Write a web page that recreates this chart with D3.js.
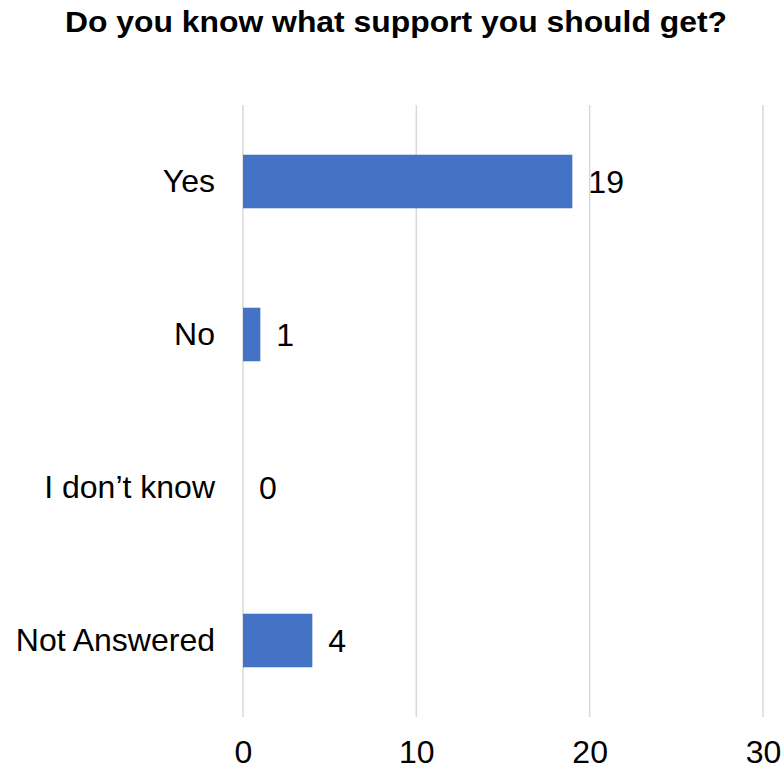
<!DOCTYPE html>
<html>
<head>
<meta charset="utf-8">
<script src="https://cdn.jsdelivr.net/npm/d3@7"></script>
<style>
  html, body { margin: 0; padding: 0; background: #fff; }
  text { font-family: "Liberation Sans", Arial, sans-serif; }
</style>
</head>
<body>
<svg id="chart" width="782" height="771"></svg>
<script>
// Survey responses
const categories = ["Yes", "No", "I don\u2019t know", "Not Answered"];
const counts = [19, 1, 0, 4];
const tickValues = [0, 10, 20, 30];
const title = "Do you know what support you should get?";

const svg = d3.select("#chart");
const W = 782, H = 771;
const margin = { left: 243, right: 19, top: 105, bottom: 54 };
const labelSize = "32px";

const x = d3.scaleLinear()
  .domain([0, 30])
  .range([margin.left, W - margin.right]);

const y = d3.scaleBand()
  .domain(categories)
  .range([margin.top, H - margin.bottom])
  .paddingInner(0.65)
  .paddingOuter(0.325);

// Title
svg.append("text")
  .attr("x", 396)
  .attr("y", 32)
  .attr("text-anchor", "middle")
  .style("font-size", "29px")
  .style("font-weight", "bold")
  .attr("textLength", 662)
  .attr("lengthAdjust", "spacingAndGlyphs")
  .attr("fill", "#000")
  .text(title);

// Vertical gridlines
svg.append("g")
  .selectAll("line")
  .data(tickValues)
  .join("line")
  .attr("x1", d => x(d))
  .attr("x2", d => x(d))
  .attr("y1", margin.top)
  .attr("y2", H - margin.bottom)
  .attr("stroke", "#d9d9d9")
  .attr("stroke-width", 1.5);

// X axis tick labels
const xAxis = d3.axisBottom(x).tickValues(tickValues).tickSize(0).tickPadding(0);
const gx = svg.append("g")
  .attr("transform", `translate(0, ${H - margin.bottom + 11})`)
  .call(xAxis);
gx.select(".domain").remove();
gx.selectAll("text")
  .attr("dy", "1.1em")
  .style("font-size", labelSize)
  .style("font-family", "'Liberation Sans', Arial, sans-serif")
  .attr("fill", "#000");

// Category labels
const yAxis = d3.axisLeft(y).tickSize(0).tickPadding(28);
const gy = svg.append("g")
  .attr("transform", `translate(${margin.left}, 0)`)
  .call(yAxis);
gy.select(".domain").remove();
gy.selectAll("text")
  .style("font-size", labelSize)
  .style("font-family", "'Liberation Sans', Arial, sans-serif")
  .attr("fill", "#000");

// Bars
svg.append("g")
  .selectAll("rect")
  .data(categories)
  .join("rect")
  .attr("x", x(0))
  .attr("y", d => y(d))
  .attr("width", (d, i) => x(counts[i]) - x(0))
  .attr("height", y.bandwidth())
  .attr("fill", "#4472c4");

// Value labels
svg.append("g")
  .selectAll("text")
  .data(categories)
  .join("text")
  .attr("x", (d, i) => x(counts[i]) + 16)
  .attr("y", d => y(d) + y.bandwidth() / 2)
  .attr("dy", "0.35em")
  .style("font-size", labelSize)
  .attr("fill", "#000")
  .text((d, i) => counts[i]);
</script>
</body>
</html>
